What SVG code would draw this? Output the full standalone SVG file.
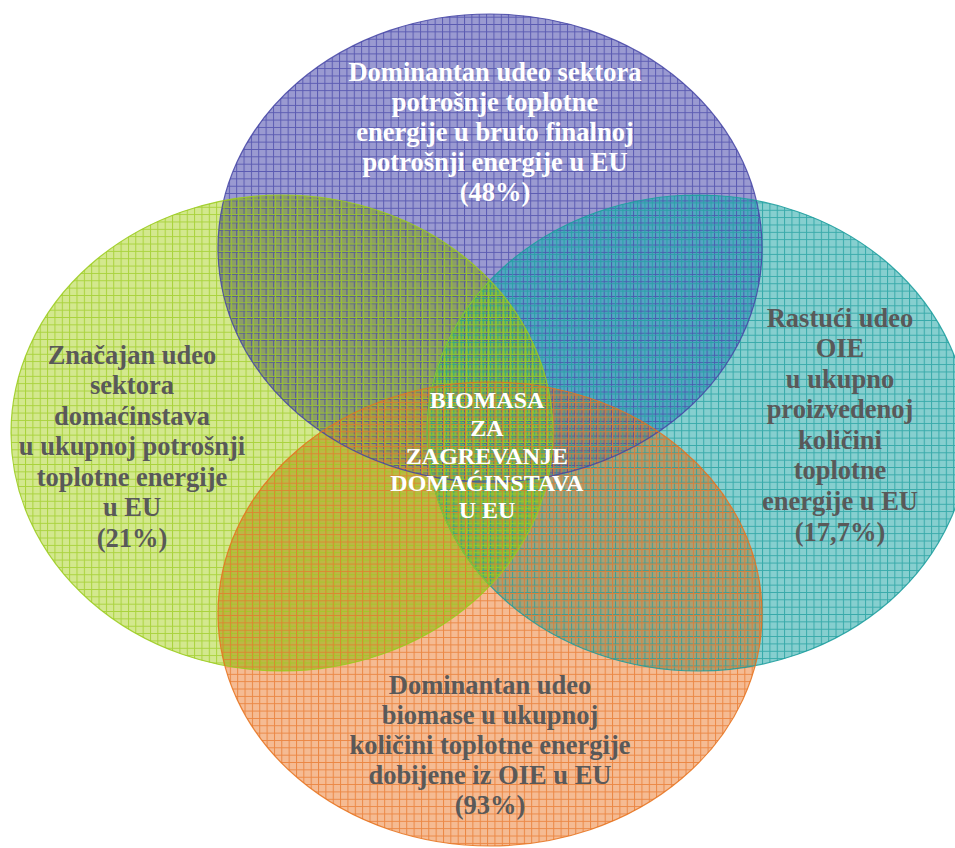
<svg xmlns="http://www.w3.org/2000/svg" width="955" height="848" viewBox="0 0 955 848">
<style>
.lbl{font-family:"Liberation Serif","Times New Roman",serif;font-weight:bold;font-size:26.5px;text-anchor:middle}
.dark{fill:#595959}
.white{fill:#ffffff}
.ctr{font-size:24px}
.ol{fill:none;stroke-width:1.2;opacity:0.85}
.grid{opacity:0.75}
</style>
<defs>
<ellipse id="eB" cx="490" cy="248" rx="272" ry="234"/>
<ellipse id="eG" cx="282" cy="433" rx="271" ry="238"/>
<ellipse id="eT" cx="698" cy="433" rx="271" ry="238"/>
<ellipse id="eO" cx="490" cy="614" rx="272" ry="232"/>
<clipPath id="cB"><use href="#eB"/></clipPath>
<clipPath id="cG"><use href="#eG"/></clipPath>
<clipPath id="cT"><use href="#eT"/></clipPath>
<clipPath id="cO"><use href="#eO"/></clipPath>
<pattern id="pB" width="7.35" height="7.35" x="1" y="2" patternUnits="userSpaceOnUse"><path d="M0 0.5H7.35M0.5 0V7.35" stroke="#4646a8" stroke-width="1" fill="none"/></pattern>
<pattern id="pG" width="7.35" height="7.35" x="3" y="1" patternUnits="userSpaceOnUse"><path d="M0 0.5H7.35M0.5 0V7.35" stroke="#9ccc22" stroke-width="1" fill="none"/></pattern>
<pattern id="pT" width="7.35" height="7.35" x="5" y="4" patternUnits="userSpaceOnUse"><path d="M0 0.5H7.35M0.5 0V7.35" stroke="#1e9e9e" stroke-width="1" fill="none"/></pattern>
<pattern id="pO" width="7.35" height="7.35" x="2" y="5" patternUnits="userSpaceOnUse"><path d="M0 0.5H7.35M0.5 0V7.35" stroke="#e8762a" stroke-width="1" fill="none"/></pattern>
</defs>

<g id="shapes">
<g id="node-top"><use href="#eB" fill="#9a9ad1"/></g>
<g id="node-right"><use href="#eT" fill="#86cfcf"/></g>
<g id="node-left"><use href="#eG" fill="#d3e88e"/></g>
<g id="node-bottom"><use href="#eO" fill="#f5bb93"/></g>
</g>

<g id="overlaps">
<g clip-path="url(#cB)"><use href="#eG" fill="#8c9e66"/></g>
<g clip-path="url(#cB)"><use href="#eT" fill="#52a6c2"/></g>
<g clip-path="url(#cG)"><use href="#eO" fill="#bcb845"/></g>
<g clip-path="url(#cT)"><use href="#eO" fill="#a9a074"/></g>
<g clip-path="url(#cB)"><g clip-path="url(#cG)"><use href="#eO" fill="#a49a4a"/></g></g>
<g clip-path="url(#cB)"><g clip-path="url(#cT)"><use href="#eO" fill="#948a6c"/></g></g>
<g clip-path="url(#cG)"><use href="#eT" fill="#7eba46"/></g>
<g clip-path="url(#cG)"><g clip-path="url(#cT)"><use href="#eO" fill="#8ab83e"/></g></g>
</g>

<g id="grids" class="grid">
<use href="#eB" fill="url(#pB)"/>
<use href="#eT" fill="url(#pT)"/>
<use href="#eG" fill="url(#pG)"/>
<use href="#eO" fill="url(#pO)"/>
</g>

<g id="outlines">
<use href="#eB" class="ol" stroke="#4444a4"/>
<use href="#eT" class="ol" stroke="#1a9c9c"/>
<g clip-path="url(#cG)"><use href="#eT" class="ol" stroke="#9acb1c"/></g>
<use href="#eG" class="ol" stroke="#9acb1c"/>
<use href="#eO" class="ol" stroke="#e6721c"/>
</g>

<g id="label-top" class="lbl white">
<text x="495" y="81">Dominantan udeo sektora</text>
<text x="495" y="111">potrošnje toplotne</text>
<text x="495" y="141">energije u bruto finalnoj</text>
<text x="495" y="171">potrošnji energije u EU</text>
<text x="495" y="201">(48%)</text>
</g>

<g id="label-left" class="lbl dark">
<text x="132" y="364">Značajan udeo</text>
<text x="132" y="394">sektora</text>
<text x="132" y="425">domaćinstava</text>
<text x="132" y="455">u ukupnoj potrošnji</text>
<text x="132" y="486">toplotne energije</text>
<text x="132" y="516">u EU</text>
<text x="132" y="547">(21%)</text>
</g>

<g id="label-right" class="lbl dark">
<text x="840" y="327">Rastući udeo</text>
<text x="840" y="357">OIE</text>
<text x="840" y="388">u ukupno</text>
<text x="840" y="418">proizvedenoj</text>
<text x="840" y="449">količini</text>
<text x="840" y="479">toplotne</text>
<text x="840" y="510">energije u EU</text>
<text x="840" y="541">(17,7%)</text>
</g>

<g id="label-bottom" class="lbl dark">
<text x="490" y="694">Dominantan udeo</text>
<text x="490" y="724">biomase u ukupnoj</text>
<text x="490" y="754">količini toplotne energije</text>
<text x="490" y="784">dobijene iz OIE u EU</text>
<text x="490" y="814">(93%)</text>
</g>

<g id="node-center" class="lbl white ctr">
<text x="487" y="408">BIOMASA</text>
<text x="487" y="436">ZA</text>
<text x="487" y="464">ZAGREVANJE</text>
<text x="487" y="491">DOMAĆINSTAVA</text>
<text x="487" y="518">U EU</text>
</g>
</svg>
